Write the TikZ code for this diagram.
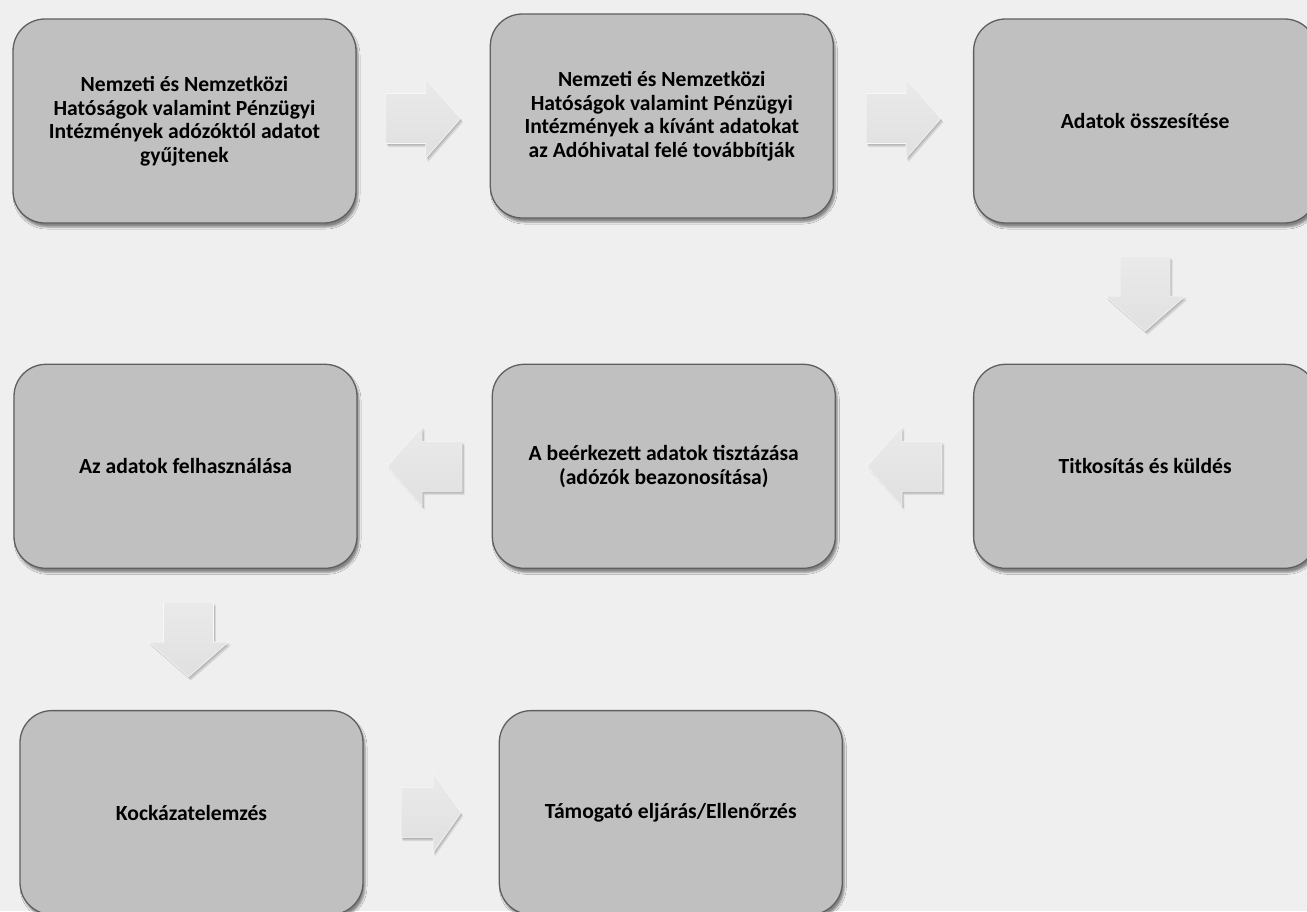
\documentclass[tikz,border=0pt]{standalone}
\usepackage{fontspec}
\setmainfont{Carlito}
\usetikzlibrary{positioning, calc, shadows.blur}
\definecolor{bggray}{RGB}{239,239,239}
\definecolor{boxgray}{RGB}{192,192,192}
\definecolor{edgegray}{RGB}{95,95,95}
\definecolor{arrowlight}{RGB}{234,234,234}
\definecolor{arrowdark}{RGB}{224,224,224}

\begin{document}
\begin{tikzpicture}[
    x=1pt, y=-1pt,
    procbox/.style={draw=edgegray, line width=1.3pt, fill=boxgray, rounded corners=32pt,
      minimum width=343pt, minimum height=204pt, inner sep=0pt, align=center,
      font=\bfseries\fontsize{21.6}{23.5}\selectfont,
      blur shadow={shadow xshift=2pt, shadow yshift=-4pt, shadow blur radius=2pt, shadow opacity=45}},
    arrfill/.style={top color=arrowlight, bottom color=arrowdark, draw=white!60!arrowlight, line width=0.6pt},
    arrshade/.style={fill=black, opacity=0.09, draw=none},
    blockarr/.pic={
      \foreach \d in {1,2,3}
        \path[arrshade, shift={(0.8*\d,1.2*\d)}, rotate=#1] (-37.5,-25) -- (2.5,-25) -- (2.5,-40)
          -- (37.5,0) -- (2.5,40) -- (2.5,25) -- (-37.5,25) -- cycle;
      \path[arrfill, rotate=#1] (-37.5,-25) -- (2.5,-25) -- (2.5,-40) -- (37.5,0)
        -- (2.5,40) -- (2.5,25) -- (-37.5,25) -- cycle;
    },
  ]
  \fill[bggray] (0,0) rectangle (1307,911);
  \useasboundingbox (0,0) rectangle (1307,911);
  % first row
  \node[procbox] (b1) at (184.5,121) {Nemzeti és Nemzetközi\\Hatóságok valamint Pénzügyi\\Intézmények adózóktól adatot\\gyűjtenek};
  \node[procbox, right=133pt of b1, yshift=5pt] (b2) {Nemzeti és Nemzetközi\\Hatóságok valamint Pénzügyi\\Intézmények a kívánt adatokat\\az Adóhivatal felé továbbítják};
  \node[procbox, right=139pt of b2, yshift=-5pt] (b3) {Adatok összesítése};
  % second row
  \node[procbox, below=140pt of b3] (b6) {Titkosítás és küldés};
  \node[procbox, left=137pt of b6] (b5) {A beérkezett adatok tisztázása\\(adózók beazonosítása)};
  \node[procbox, left=134pt of b5] (b4) {Az adatok felhasználása};
  % third row
  \node[procbox, below=141pt of b4, xshift=6pt] (b7) {Kockázatelemzés};
  \node[procbox, right=135pt of b7] (b8) {Támogató eljárás/Ellenőrzés};
  % block arrows
  \pic at ($(b1.east)!0.5!(b2.west)$) {blockarr=0};
  \pic at ($(b2.east)!0.5!(b3.west)$) {blockarr=0};
  \pic at ($(b3.south)!0.5!(b6.north)$) {blockarr=-90};
  \pic at ($(b6.west)!0.5!(b5.east)$) {blockarr=180};
  \pic at ($(b5.west)!0.5!(b4.east)$) {blockarr=180};
  \pic at ($(b4.south)!0.5!(b7.north)$) {blockarr=-90};
  \pic[xscale=0.8] at ($(b7.east)!0.5!(b8.west)$) {blockarr=0};
\end{tikzpicture}
\end{document}
